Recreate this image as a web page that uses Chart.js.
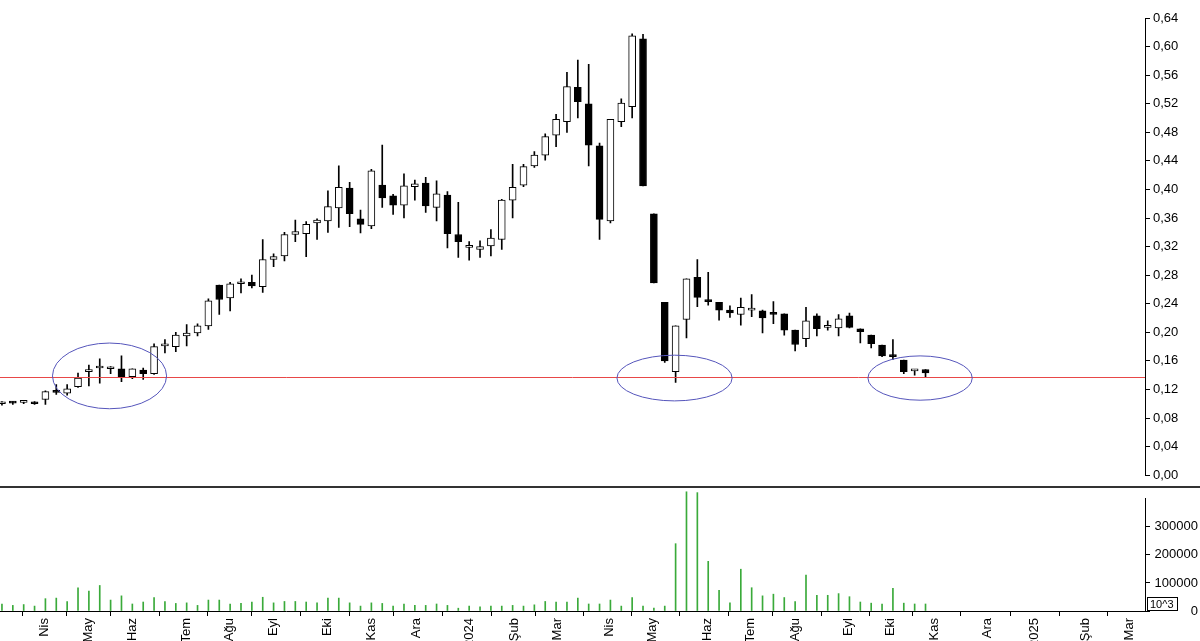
<!DOCTYPE html>
<html><head><meta charset="utf-8">
<script src="https://cdn.jsdelivr.net/npm/chart.js@4"></script>
<style>
html,body{margin:0;padding:0;width:1200px;height:641px;overflow:hidden;background:#fff}
#top{position:absolute;left:0;top:0;width:1200px;height:486px}
#bot{position:absolute;left:0;top:486px;width:1200px;height:200px;border-top:2px solid #333}
</style></head><body>
<div id="top"><canvas id="c1"></canvas></div>
<div id="bot"><canvas id="c2"></canvas></div>
<script>
const opens  =[0.100,0.102,0.102,0.102,0.106,0.118,0.115,0.124,0.145,0.150,0.149,0.149,0.138,0.147,0.142,0.181,0.180,0.195,0.199,0.209,0.266,0.248,0.268,0.270,0.264,0.302,0.307,0.337,0.338,0.353,0.356,0.374,0.402,0.359,0.349,0.406,0.391,0.378,0.404,0.409,0.375,0.392,0.337,0.319,0.316,0.321,0.330,0.385,0.406,0.433,0.448,0.476,0.495,0.543,0.520,0.461,0.356,0.495,0.516,0.611,0.366,0.242,0.145,0.218,0.277,0.246,0.242,0.231,0.225,0.231,0.230,0.228,0.226,0.203,0.191,0.223,0.207,0.206,0.223,0.205,0.196,0.182,0.168,0.161,0.146,0.148];
const closes =[0.100,0.101,0.102,0.100,0.117,0.116,0.121,0.136,0.145,0.150,0.149,0.138,0.149,0.142,0.180,0.181,0.196,0.199,0.209,0.244,0.246,0.268,0.268,0.265,0.302,0.306,0.337,0.341,0.351,0.357,0.376,0.403,0.366,0.351,0.426,0.388,0.378,0.405,0.408,0.377,0.394,0.338,0.327,0.319,0.320,0.332,0.385,0.403,0.432,0.448,0.474,0.498,0.544,0.523,0.462,0.358,0.498,0.521,0.615,0.405,0.269,0.160,0.209,0.275,0.249,0.243,0.231,0.227,0.235,0.231,0.220,0.225,0.203,0.183,0.216,0.205,0.207,0.219,0.207,0.201,0.184,0.167,0.166,0.145,0.146,0.143];
const highs  =[0.103,0.103,0.104,0.103,0.118,0.127,0.127,0.143,0.154,0.163,0.152,0.167,0.149,0.150,0.184,0.190,0.200,0.211,0.212,0.247,0.266,0.270,0.275,0.280,0.330,0.310,0.340,0.357,0.355,0.359,0.398,0.433,0.410,0.371,0.428,0.462,0.393,0.422,0.413,0.417,0.412,0.397,0.382,0.327,0.328,0.344,0.386,0.435,0.435,0.453,0.478,0.505,0.564,0.581,0.575,0.465,0.498,0.527,0.618,0.617,0.366,0.242,0.209,0.275,0.302,0.284,0.242,0.237,0.248,0.253,0.231,0.243,0.226,0.203,0.235,0.226,0.216,0.225,0.227,0.205,0.196,0.182,0.190,0.161,0.148,0.148];
const lows   =[0.098,0.099,0.100,0.099,0.099,0.113,0.112,0.123,0.125,0.129,0.142,0.131,0.135,0.134,0.141,0.171,0.173,0.181,0.195,0.204,0.225,0.230,0.255,0.262,0.256,0.292,0.300,0.327,0.306,0.330,0.340,0.347,0.348,0.339,0.345,0.375,0.365,0.360,0.385,0.368,0.356,0.318,0.305,0.301,0.305,0.307,0.316,0.360,0.404,0.431,0.441,0.460,0.480,0.500,0.433,0.330,0.353,0.488,0.500,0.405,0.269,0.158,0.130,0.192,0.236,0.238,0.217,0.221,0.210,0.222,0.199,0.212,0.196,0.174,0.180,0.195,0.203,0.195,0.206,0.185,0.178,0.166,0.162,0.142,0.140,0.138];
const volumes=[24600,20000,23000,17500,44000,46000,34000,83000,71000,91000,39000,54000,25000,32000,48000,34000,27000,29000,20000,39000,39000,25000,27000,32000,49000,29000,34000,34000,32000,29000,46000,46000,29000,17500,29000,27000,17500,25000,20000,20000,25000,20000,10000,17500,15000,17500,17500,20000,17500,22000,34000,32000,32000,46000,25000,25000,39000,17500,48000,17500,10500,17500,240000,425000,422000,177000,74000,29000,149000,83000,54000,60000,48000,34000,128000,56000,56000,62000,51000,32000,28000,25000,81000,28000,25000,25000];
const monthLabels=["Nis","May","Haz","Tem","Ağu","Eyl","Eki","Kas","Ara","2024","Şub","Mar","Nis","May","Haz","Tem","Ağu","Eyl","Eki","Kas","Ara","2025","Şub","Mar"];
const monthPos   =[3.94,8.0,12.0,17.0,20.9,25.0,30.0,34.0,38.1,43.0,47.2,51.1,55.9,59.9,64.9,68.9,73.0,77.9,81.8,85.8,90.7,95.0,99.7,103.8];
const priceTicks =[0,0.04,0.08,0.12,0.16,0.20,0.24,0.28,0.32,0.36,0.40,0.44,0.48,0.52,0.56,0.60,0.64];
const volTicks   =[0,100000,200000,300000];
const supportLevel=0.138;
const ellipses=[{x:9.9,y:0.139,rx:5.25,ry:0.046},{x:61.9,y:0.136,rx:5.3,ry:0.032},{x:84.5,y:0.136,rx:4.8,ry:0.031}];

const XMIN=-0.18, XMAX=105.2, AXW=55;
const font={family:"'Liberation Sans', Arial, sans-serif",size:13};
const idx=opens.map((_,i)=>i);

const overlay={id:'overlay',afterDatasetsDraw(ch){
  const {ctx,chartArea:a,scales:{x,y}}=ch;
  ctx.save();
  ctx.strokeStyle='#e84848';ctx.lineWidth=1;
  const yy=Math.round(y.getPixelForValue(supportLevel))+0.5;
  ctx.beginPath();ctx.moveTo(a.left,yy);ctx.lineTo(a.right,yy);ctx.stroke();
  ctx.strokeStyle='#5555bb';
  ellipses.forEach(e=>{
    const cx=x.getPixelForValue(e.x),cy=y.getPixelForValue(e.y);
    const rx=x.getPixelForValue(e.x+e.rx)-cx, ry=cy-y.getPixelForValue(e.y+e.ry);
    ctx.beginPath();ctx.ellipse(cx,cy,rx,ry,0,0,Math.PI*2);ctx.stroke();
  });
  ctx.restore();
}};

new Chart(document.getElementById('c1'),{
  type:'bar',
  data:{datasets:[
    {data:idx.map(i=>({x:i,y:[lows[i],highs[i]]})),backgroundColor:'#000',barThickness:1,order:2},
    {data:idx.map(i=>({x:i,y:[Math.min(opens[i],closes[i]),Math.max(opens[i],closes[i])]})),
     backgroundColor:idx.map(i=>closes[i]<opens[i]?'#000':'#fff'),borderColor:'#000',borderWidth:1,borderSkipped:false,barThickness:7,minBarLength:2,order:1}
  ]},
  options:{responsive:true,maintainAspectRatio:false,animation:false,
    layout:{padding:{top:18,bottom:8,left:0,right:0}},
    plugins:{legend:{display:false},tooltip:{enabled:false}},
    datasets:{bar:{grouped:false}},
    scales:{
      x:{type:'linear',min:XMIN,max:XMAX,offset:false,display:false},
      y:{position:'right',min:0,max:0.64,
        afterBuildTicks:s=>{s.ticks=priceTicks.map(v=>({value:v}))},
        afterFit:s=>{s.width=AXW},
        grid:{drawOnChartArea:false,tickLength:5,color:'#000'},
        border:{color:'#000'},
        ticks:{color:'#000',font,padding:3,callback:v=>v.toFixed(2).replace('.',',')}}
    }
  },
  plugins:[overlay]
});

const boxLabel={id:'boxLabel',afterDraw(ch){
  const {ctx,chartArea:a}=ch;
  ctx.save();ctx.font="11px 'Liberation Sans', Arial";ctx.fillStyle='#000';
  const yb=a.bottom-7;
  ctx.fillText('10^3',a.right+5,yb+4);
  ctx.strokeStyle='#000';ctx.strokeRect(a.right+2.5,yb-6.5,30,13);
  ctx.restore();
}};

new Chart(document.getElementById('c2'),{
  type:'bar',
  data:{datasets:[{data:idx.map(i=>({x:i,y:volumes[i]})),backgroundColor:'#3aaa3a',barThickness:1,clip:false}]},
  options:{responsive:true,maintainAspectRatio:false,animation:false,
    layout:{padding:{top:1,bottom:0,left:0,right:2}},
    plugins:{legend:{display:false},tooltip:{enabled:false}},
    scales:{
      x:{type:'linear',min:XMIN,max:XMAX,offset:false,
        afterBuildTicks:s=>{s.ticks=monthPos.map(v=>({value:v}))},
        afterFit:s=>{s.height=77},
        grid:{drawOnChartArea:false,tickLength:5,color:'#000'},
        border:{color:'#000'},
        ticks:{color:'#000',font,minRotation:90,maxRotation:90,autoSkip:false,padding:2,
          callback:(v,i)=>monthLabels[i]}},
      y:{position:'right',min:0,max:400000,
        afterBuildTicks:s=>{s.ticks=volTicks.map(v=>({value:v}))},
        afterFit:s=>{s.width=AXW-2},
        grid:{drawOnChartArea:false,tickLength:5,color:'#000'},
        border:{color:'#000'},
        ticks:{color:'#000',font,padding:3,crossAlign:'far',callback:v=>String(v)}}
    }
  },
  plugins:[boxLabel]
});
</script></body></html>
